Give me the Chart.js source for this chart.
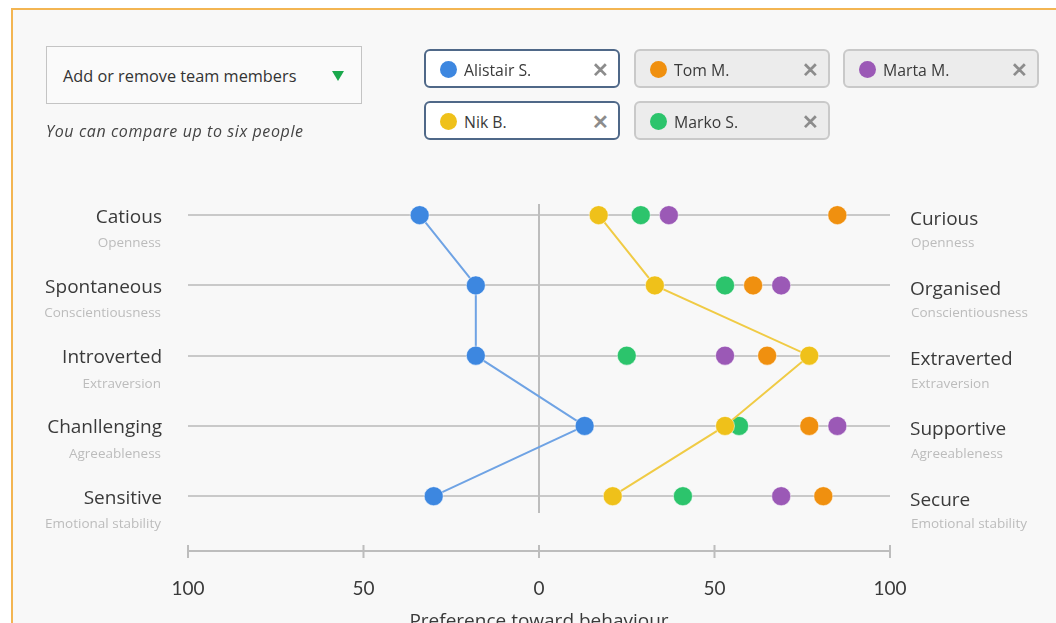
<!DOCTYPE html>
<html>
<head>
<meta charset="utf-8">
<script src="https://cdn.jsdelivr.net/npm/chart.js@4.4.1/dist/chart.umd.min.js"></script>
<style>
  body { margin: 0; width: 1056px; height: 623px; overflow: hidden; background: #fff; font-family: "Open Sans", Lato, sans-serif; }
  #frame { position: absolute; left: 11px; top: 8px; width: 1060px; height: 640px; border-left: 2px solid #f3b552; border-top: 2px solid #f3b552; background: #f8f8f8; }
  #chart { position: absolute; left: 0; top: 0; }
  .drop { position: absolute; left: 46px; top: 46px; width: 298px; height: 56px; border: 1.5px solid #c4c4c4; background: #fafafa; color: #333; font-size: 16.3px; line-height: 58px; padding-left: 16px; box-sizing: content-box; }
  .drop .tri { position: absolute; left: 285px; top: 24px; width: 0; height: 0; border-left: 6px solid transparent; border-right: 6px solid transparent; border-top: 10px solid #1aa84c; }
  .hint { position: absolute; left: 46px; top: 120px; font-size: 16px; font-style: italic; color: #444; letter-spacing: 0.6px; }
  .chip { position: absolute; width: 196px; height: 39px; border-radius: 6px; box-sizing: border-box; font-size: 15.8px; color: #3a3a3a; }
  .chip.on { border: 2px solid #4f6888; background: #fff; }
  .chip.off { border: 2px solid #c9c9c9; background: #ececec; }
  .chip .dot { position: absolute; left: 14px; top: 10px; width: 17px; height: 17px; border-radius: 50%; }
  .chip .nm { position: absolute; left: 38px; top: 8px; }
  .chip .x { position: absolute; left: 166px; top: 6px; font-size: 20px; font-weight: bold; color: #8c8c8c; font-family: Lato, sans-serif; }
</style>
</head>
<body>
<div id="frame"></div>
<canvas id="chart" width="1056" height="634"></canvas>
<div class="drop">Add or remove team members<span class="tri"></span></div>
<div class="hint">You can compare up to six people</div>
<div id="chips"></div>
<script>
// rows of the chart (left and right ends of each trait)
var leftLabels = ['Catious', 'Spontaneous', 'Introverted', 'Chanllenging', 'Sensitive'];
var rightLabels = ['Curious', 'Organised', 'Extraverted', 'Supportive', 'Secure'];
var traits = ['Openness', 'Conscientiousness', 'Extraversion', 'Agreeableness', 'Emotional stability'];
var xTicks = [-100, -50, 0, 50, 100];

// team members, in chip order
var names = ['Alistair S.', 'Tom M.', 'Marta M.', 'Nik B.', 'Marko S.'];
var colors = ['#3d87e0', '#f0900f', '#9b59b6', '#efc11a', '#2cc46c'];
var lineColors = ['#6fa3e4', null, null, '#f0cb45', null];
var selected = [true, false, false, true, false];

var alistair = [-34, -18, -18, 13, -30];
var tom = [85, 61, 65, 77, 81];
var marta = [37, 69, 53, 85, 69];
var nik = [17, 33, 77, 53, 21];
var marko = [29, 53, 25, 57, 41];
var values = [alistair, tom, marta, nik, marko];

// chips
var chipPos = [[424, 49], [634, 49], [843, 49], [424, 101], [634, 101]];
var chipsEl = document.getElementById('chips');
names.forEach(function (n, i) {
    var c = document.createElement('div');
    c.className = 'chip ' + (selected[i] ? 'on' : 'off');
    c.style.left = chipPos[i][0] + 'px';
    c.style.top = chipPos[i][1] + 'px';
    c.innerHTML = '<span class="dot" style="background:' + colors[i] + '"></span><span class="nm">' + n + '</span><span class="x">&#x2715;</span>';
    chipsEl.appendChild(c);
});

// draw order: lines people first, then the dots
var order = [0, 3, 4, 1, 2];
var datasets = order.map(function (i) {
    return {
        label: names[i],
        data: values[i].map(function (v, r) { return { x: v, y: r }; }),
        showLine: lineColors[i] != null,
        borderColor: lineColors[i] || colors[i],
        borderWidth: 2,
        pointBackgroundColor: colors[i],
        pointBorderColor: 'rgba(255,255,255,0.5)',
        pointBorderWidth: 1,
        pointRadius: 9.5,
        pointHoverRadius: 9.5
    };
});

var FONT = '"Open Sans"';

var sidePlugin = {
    id: 'sides',
    beforeDatasetsDraw: function (chart) {
        var ctx = chart.ctx, xs = chart.scales.x, ys = chart.scales.y;
        // centre line
        ctx.save();
        ctx.strokeStyle = '#bdbdbd';
        ctx.lineWidth = 2;
        ctx.beginPath();
        ctx.moveTo(xs.getPixelForValue(0), ys.getPixelForValue(-0.16));
        ctx.lineTo(xs.getPixelForValue(0), ys.getPixelForValue(4.24));
        ctx.stroke();
        ctx.restore();
    },
    afterDraw: function (chart) {
        var ctx = chart.ctx, xs = chart.scales.x, ys = chart.scales.y, a = chart.chartArea;
        ctx.save();
        // tick marks on the bottom axis
        ctx.strokeStyle = '#bdbdbd';
        ctx.lineWidth = 2;
        xTicks.forEach(function (t) {
            var px = xs.getPixelForValue(t);
            ctx.beginPath();
            ctx.moveTo(px, a.bottom - 6);
            ctx.lineTo(px, a.bottom + 7);
            ctx.stroke();
        });
        ctx.textBaseline = 'middle';
        leftLabels.forEach(function (l, i) {
            var y = ys.getPixelForValue(i);
            ctx.textAlign = 'right';
            ctx.fillStyle = '#3a3a3a';
            ctx.font = '19px ' + FONT;
            ctx.fillText(l, a.left - 26, y + 2);
            ctx.fillStyle = '#bcbcbc';
            ctx.font = '13.5px ' + FONT;
            ctx.fillText(traits[i], a.left - 27, y + 28);
            ctx.textAlign = 'left';
            ctx.fillStyle = '#3a3a3a';
            ctx.font = '19px ' + FONT;
            ctx.fillText(rightLabels[i], a.right + 20, y + 4);
            ctx.fillStyle = '#bcbcbc';
            ctx.font = '13.5px ' + FONT;
            ctx.fillText(traits[i], a.right + 21, y + 28);
        });
        ctx.restore();
    }
};

new Chart(document.getElementById('chart'), {
    type: 'scatter',
    data: { datasets: datasets },
    options: {
        responsive: false,
        animation: false,
        layout: { padding: { left: 188, right: 166, top: 180, bottom: 0 } },
        plugins: { legend: { display: false }, tooltip: { enabled: false } },
        scales: {
            x: {
                min: -100,
                max: 100,
                afterBuildTicks: function (s) { s.ticks = xTicks.map(function (v) { return { value: v }; }); },
                afterFit: function (s) { s.height = 83; },
                grid: { display: false, drawTicks: false },
                border: { display: true, color: '#bdbdbd', width: 2 },
                ticks: {
                    padding: 26,
                    color: '#3a3a3a',
                    font: { family: 'Lato', size: 19 },
                    callback: function (v) { return Math.abs(v); }
                },
                title: {
                    display: true,
                    text: 'Preference toward behaviour',
                    color: '#3a3a3a',
                    font: { family: 'Open Sans', size: 19 },
                    padding: { top: 0, bottom: 1 }
                }
            },
            y: {
                reverse: true,
                min: -0.5,
                max: 4.78,
                afterBuildTicks: function (s) { s.ticks = leftLabels.map(function (l, i) { return { value: i }; }); },
                grid: { color: '#c9c9c9', lineWidth: 2, drawTicks: false },
                border: { display: false },
                ticks: { display: false }
            }
        }
    },
    plugins: [sidePlugin]
});
</script>
</body>
</html>
